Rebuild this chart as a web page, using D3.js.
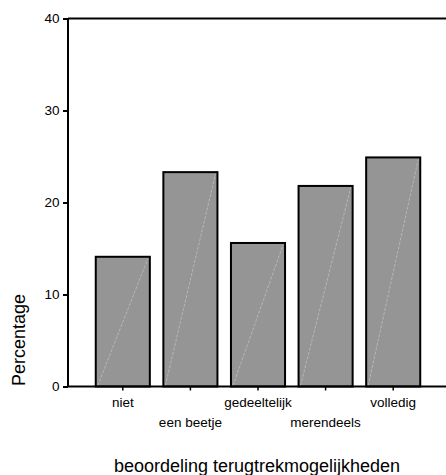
<!DOCTYPE html>
<html><head><meta charset="utf-8">
<script src="https://cdn.jsdelivr.net/npm/d3@7"></script>
<style>body{margin:0;background:#fff}svg{display:block;font-family:"Liberation Sans",Arial,sans-serif}</style>
</head><body>
<svg id="c" width="446" height="475"></svg>
<script>
const categories = ["niet","een beetje","gedeeltelijk","merendeels","volledig"];
const values = [14.1, 23.3, 15.6, 21.8, 24.9];
const yTicks = [0, 10, 20, 30, 40];
const xTitle = "beoordeling terugtrekmogelijkheden";
const yTitle = "Percentage";

const svg = d3.select("#c");
const pL = 68, pT = 18.5, pB = 386.5, pR = 450;
const y = d3.scaleLinear().domain([0, 40]).range([pB, pT]);
const x = d3.scaleBand().domain(categories).range([89, 427]).paddingInner(0.2).paddingOuter(0.1);

// frame line
svg.append("line").attr("x1", pL).attr("x2", pR).attr("y1", pT).attr("y2", pT)
  .attr("stroke", "#000").attr("stroke-width", 2);

// bars
const g = svg.append("g");
categories.forEach((c, i) => {
  const x0 = x(c), w = x.bandwidth(), y0 = y(values[i]);
  g.append("rect").attr("x", x0).attr("y", y0).attr("width", w).attr("height", y(0) - y0)
    .attr("fill", "#959595").attr("stroke", "#000").attr("stroke-width", 2);
  g.append("line").attr("x1", x0 + 2).attr("y1", y(0) - 1).attr("x2", x0 + w - 2).attr("y2", y0 + 2)
    .attr("stroke", "#c4c4c4").attr("stroke-width", 0.7).attr("stroke-dasharray", "3,1.5");
});

// y axis
const ya = svg.append("g").attr("transform", `translate(${pL},0)`)
  .call(d3.axisLeft(y).tickValues(yTicks).tickSize(5).tickPadding(3.5));
ya.select(".domain").attr("stroke-width", 2).attr("d", `M0,${pT}V${pB}`);
ya.selectAll(".tick line").attr("stroke-width", 2);
ya.selectAll("text").attr("font-size", 13.5).attr("fill", "#000").attr("font-family", "Liberation Sans, Arial, sans-serif");

// x axis
const xa = svg.append("g").attr("transform", `translate(0,${pB})`)
  .call(d3.axisBottom(x).tickSize(4).tickPadding(5));
xa.select(".domain").attr("stroke-width", 2).attr("d", `M${pL},0H${pR}`);
xa.selectAll(".tick line").attr("stroke-width", 1.5);
xa.selectAll("text").attr("font-size", 13.5).attr("fill", "#000")
  .attr("font-family", "Liberation Sans, Arial, sans-serif")
  .attr("dy", null)
  .attr("y", (d, i) => i % 2 ? 40.5 : 20);

// titles
svg.append("text").attr("x", 257).attr("y", 472).attr("text-anchor", "middle")
  .attr("font-size", 18).text(xTitle);
svg.append("text").attr("transform", "translate(25,340) rotate(-90)").attr("text-anchor", "middle")
  .attr("font-size", 18).text(yTitle);
</script>
</body></html>
